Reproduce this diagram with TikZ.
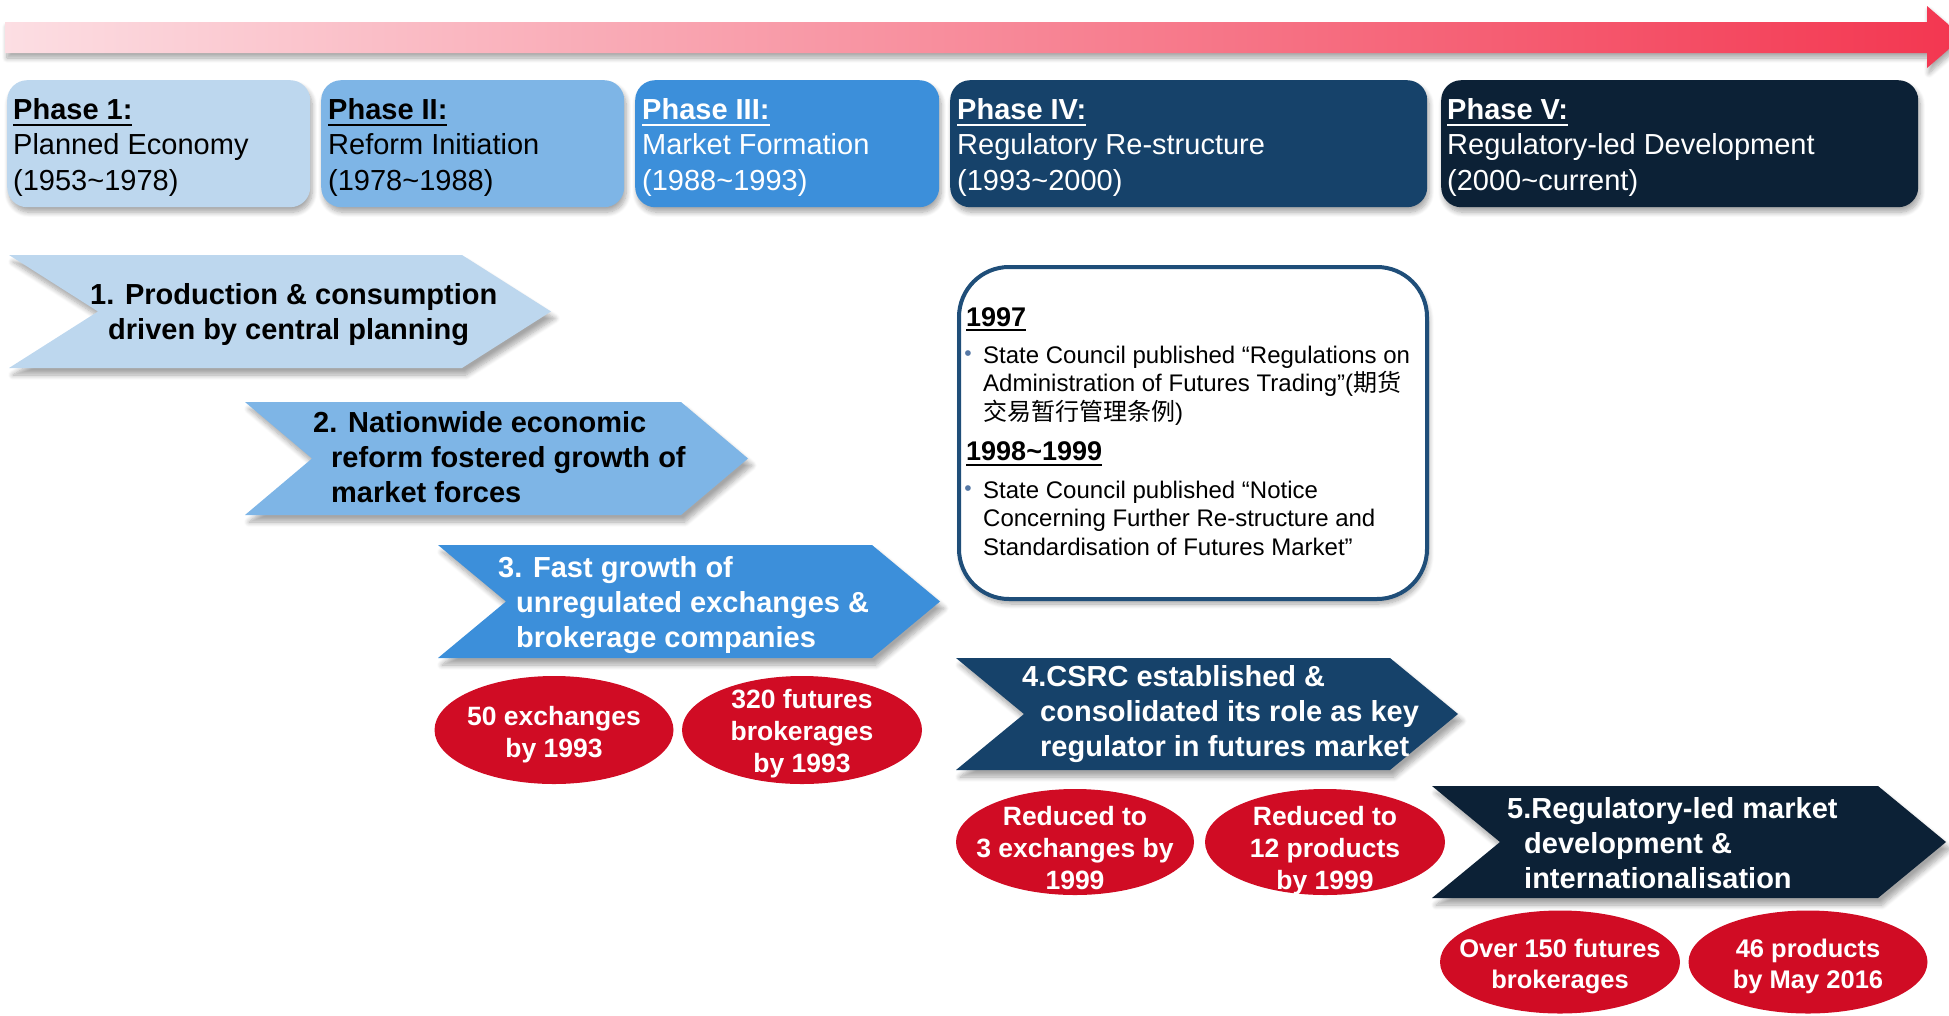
\documentclass[tikz,border=0pt]{standalone}
\usepackage{fontspec}
\setmainfont{Liberation Sans}
\newfontfamily\cjk{Noto Sans CJK SC}
\usetikzlibrary{shapes.geometric,shadows.blur}
\definecolor{cA}{RGB}{189,215,238}
\definecolor{cB}{RGB}{126,181,230}
\definecolor{cC}{RGB}{60,143,218}
\definecolor{cD}{RGB}{22,66,106}
\definecolor{cE}{RGB}{12,33,54}
\definecolor{boxline}{RGB}{31,78,121}
\definecolor{ered}{RGB}{208,12,36}
\definecolor{arL}{RGB}{252,222,227}
\definecolor{arR}{RGB}{243,54,80}
\definecolor{bulc}{RGB}{85,120,165}
\newcommand\vl[1]{\vtop{\halign{##\hfil\cr#1\crcr}}}
\newcommand\cl[1]{\vtop{\halign{\hfil##\hfil\cr#1\crcr}}}
\newcommand\ulx[3]{\setbox0\hbox{#3}\rlap{\rule[-#1]{\wd0}{#2}}\box0}
\tikzset{
  shd/.style={blur shadow={shadow xshift=2pt, shadow yshift=-5pt, shadow blur radius=5pt, shadow blur steps=8, shadow opacity=35}},
  chshd/.style={blur shadow={shadow xshift=4pt, shadow yshift=-7pt, shadow blur radius=5pt, shadow blur steps=8, shadow opacity=35}},
  phase/.style={rounded corners=20pt, anchor=north west, inner sep=0pt, minimum height=127pt, shd},
  ptxt/.style={anchor=base west, inner sep=0pt, font=\fontsize{29}{35.5}\selectfont},
  ctxt/.style={anchor=base west, inner sep=0pt, font=\fontsize{29}{35}\selectfont\bfseries},
  ell/.style={ellipse, fill=ered, inner sep=0pt},
  etxt/.style={anchor=base, inner sep=0pt, text=white, font=\fontsize{26.5}{32}\selectfont\bfseries},
  etxs/.style={anchor=base, inner sep=0pt, text=white, font=\fontsize{25.5}{31}\selectfont\bfseries},
  itxt/.style={anchor=base west, inner sep=0pt, font=\fontsize{24}{28.5}\selectfont},
  htxt/.style={anchor=base west, inner sep=0pt, font=\fontsize{27}{32}\selectfont\bfseries},
  bul/.style={inner sep=0pt, text=bulc, font=\fontsize{21}{21}\selectfont},
}
\newcommand\chev[6]{\fill[#6, chshd] (#1,#2) -- (#3,#2) -- ({#3+#5},{(#2+#4)/2}) -- (#3,#4) -- (#1,#4) -- ({#1+#5},{(#2+#4)/2}) -- cycle;}
\begin{document}
\begin{tikzpicture}[x=1pt,y=-1pt]
\useasboundingbox (0,0) rectangle (1949,1015);
% timeline arrow
\shade[left color=arL, right color=arR, shd] (5,22) -- (1927,22) -- (1927,6) -- (1963,37) -- (1927,68) -- (1927,53) -- (5,53) -- cycle;
% phase boxes
\node[phase, fill=cA, minimum width=303pt] (ph1) at (7,80) {};
\node[phase, fill=cB, minimum width=303pt] (ph2) at (321,80) {};
\node[phase, fill=cC, minimum width=304pt] (ph3) at (635,80) {};
\node[phase, fill=cD, minimum width=477pt] (ph4) at (950,80) {};
\node[phase, fill=cE, minimum width=477pt] (ph5) at (1441,80) {};
\node[ptxt] (ph1t) at (13,119) {\vl{\ulx{7pt}{2.2pt}{\bfseries Phase 1:}\cr Planned Economy\cr (1953\textasciitilde 1978)}};
\node[ptxt] (ph2t) at (328,119) {\vl{\ulx{7pt}{2.2pt}{\bfseries Phase II:}\cr Reform Initiation\cr (1978\textasciitilde 1988)}};
\node[ptxt, text=white] (ph3t) at (642,119) {\vl{\ulx{7pt}{2.2pt}{\bfseries Phase III:}\cr Market Formation\cr (1988\textasciitilde 1993)}};
\node[ptxt, text=white] (ph4t) at (957,119) {\vl{\ulx{7pt}{2.2pt}{\bfseries Phase IV:}\cr Regulatory Re-structure\cr (1993\textasciitilde 2000)}};
\node[ptxt, text=white] (ph5t) at (1447,119) {\vl{\ulx{7pt}{2.2pt}{\bfseries Phase V:}\cr Regulatory-led Development\cr (2000\textasciitilde current)}};
% chevrons
\chev{9}{255}{462}{368}{89}{cA}
\chev{245}{402}{681}{515}{67}{cB}
\chev{438}{545}{872}{658}{68}{cC}
\chev{956}{658}{1390}{770}{68}{cD}
\chev{1432}{786}{1878}{898}{68}{cE}
\node[ctxt] (c1t) at (108,304) {\vl{\kern-18pt 1. Production \& consumption\cr driven by central planning}};
\node[ctxt] (c2t) at (331,432) {\vl{\kern-18pt 2. Nationwide economic\cr reform fostered growth of\cr market forces}};
\node[ctxt, text=white] (c3t) at (516,577) {\vl{\kern-18pt 3. Fast growth of\cr unregulated exchanges \&\cr brokerage companies}};
\node[ctxt, text=white] (c4t) at (1040,686) {\vl{\kern-18pt 4.CSRC established \&\cr consolidated its role as key\cr regulator in futures market}};
\node[ctxt, text=white] (c5t) at (1524,818) {\vl{\kern-17pt 5.Regulatory-led market\cr development \&\cr internationalisation}};
% info box
\node[anchor=north west, draw=boxline, line width=4pt, fill=white, rounded corners=50pt, minimum width=468pt, minimum height=332pt, inner sep=0pt, shd] (info) at (957,265) {};
\node[htxt] (h1) at (966,326) {\ulx{5pt}{2pt}{1997}};
\node[bul] (b1) at (968,356) {•};
\node[itxt] (t1) at (983,363) {\vl{State Council published “Regulations on\cr Administration of Futures Trading”({\cjk 期货}\cr {\cjk 交易暂行管理条例})}};
\node[htxt] (h2) at (966,460) {\ulx{6pt}{2pt}{1998\textasciitilde 1999}};
\node[bul] (b2) at (968,491) {•};
\node[itxt] (t2) at (983,498) {\vl{State Council published “Notice\cr Concerning Further Re-structure and\cr Standardisation of Futures Market”}};
% ellipses
\node[ell, minimum width=239pt, minimum height=108pt] (e1) at (554,730) {};
\node[ell, minimum width=240pt, minimum height=108pt] (e2) at (802,730) {};
\node[ell, minimum width=238pt, minimum height=106pt] (e3) at (1075,842) {};
\node[ell, minimum width=240pt, minimum height=106pt] (e4) at (1325,842) {};
\node[ell, minimum width=240pt, minimum height=103pt] (e5) at (1560,962) {};
\node[ell, minimum width=239pt, minimum height=103pt] (e6) at (1808,962) {};
\node[etxt] (e1t) at (554,725) {\cl{50 exchanges\cr by 1993}};
\node[etxt] (e2t) at (802,708) {\cl{320 futures\cr brokerages\cr by 1993}};
\node[etxt] (e3t) at (1075,825) {\cl{Reduced to\cr 3 exchanges by\cr 1999}};
\node[etxt] (e4t) at (1325,825) {\cl{Reduced to\cr 12 products\cr by 1999}};
\node[etxs] (e5t) at (1560,957) {\cl{Over 150 futures\cr brokerages}};
\node[etxs] (e6t) at (1808,957) {\cl{46 products\cr by May 2016}};
\end{tikzpicture}
\end{document}
